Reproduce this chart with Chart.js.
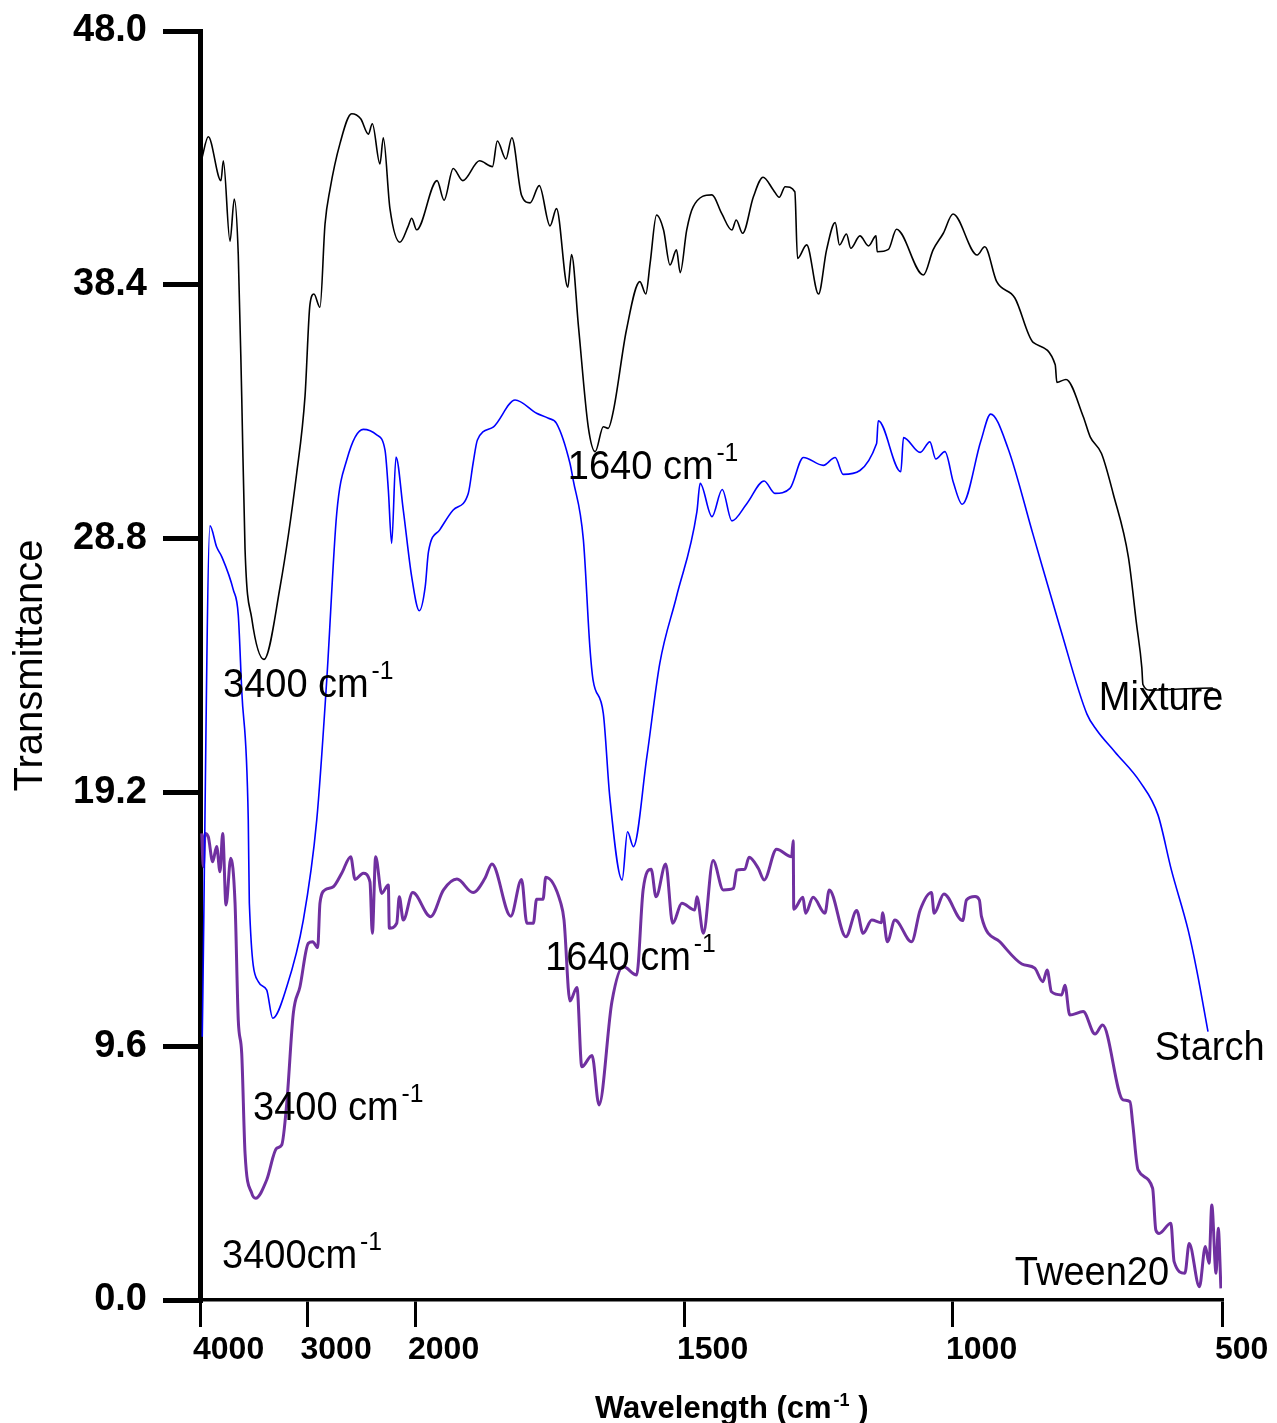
<!DOCTYPE html>
<html>
<head>
<meta charset="utf-8">
<script src="https://cdn.jsdelivr.net/npm/chart.js@4.4.1/dist/chart.umd.min.js"></script>
<style>
  html, body { margin: 0; padding: 0; background: #fff; }
  #chart { display: block; }
</style>
</head>
<body>
<canvas id="chart" width="1277" height="1423"></canvas>
<script>
// --- Data (wavenumber in cm-1, transmittance) ---
const xTicks = [4000, 3000, 2000, 1500, 1000, 500];
const yTicks = [0, 9.6, 19.2, 28.8, 38.4, 48.0];

const mixtureWave = [
  3984, 3923, 3805, 3783, 3721, 3681, 3644, 3612, 3581, 3519,
  3405, 3256, 3100, 3023, 2977, 2940, 2884, 2837, 2791, 2698,
  2589, 2505, 2434, 2397, 2326, 2295, 2233, 2140, 2062, 2031,
  1997, 1959, 1946, 1929, 1911, 1880, 1856, 1847, 1831, 1820,
  1802, 1786, 1769, 1749, 1737, 1716, 1709, 1696, 1678, 1665,
  1650, 1641, 1631, 1607, 1582, 1571, 1563, 1551, 1538, 1526,
  1514, 1507, 1495, 1483, 1448, 1430, 1411, 1403, 1391, 1371,
  1353, 1334, 1323, 1312, 1294, 1289, 1272, 1250, 1235, 1219,
  1211, 1198, 1190, 1173, 1157, 1143, 1141, 1120, 1105, 1055,
  1037, 1018, 1000, 955, 941, 919, 885, 851, 810, 807,
  790, 758, 745, 724, 702, 674, 659, 649, 647, 634,
  578, 517
];
const mixtureT = [
  43.16, 44.00, 42.34, 43.09, 40.05, 41.64, 39.54, 34.19, 28.40, 25.79,
  24.23, 26.95, 31.29, 34.19, 37.66, 38.05, 37.55, 40.70, 42.00, 43.74,
  44.87, 44.68, 44.10, 44.49, 42.97, 43.96, 41.28, 40.01, 40.63, 40.92,
  40.48, 42.34, 41.60, 42.80, 42.34, 43.09, 42.87, 43.84, 43.16, 43.96,
  41.79, 41.50, 42.15, 40.63, 41.28, 38.31, 39.54, 36.79, 33.03, 32.09,
  33.03, 32.97, 33.66, 36.69, 38.52, 38.05, 39.21, 41.04, 40.47, 39.15,
  39.72, 38.86, 40.47, 41.35, 41.80, 41.10, 40.47, 40.85, 40.35, 41.73,
  42.47, 41.99, 41.71, 42.11, 41.92, 39.40, 39.91, 38.05, 39.72, 40.75,
  39.91, 40.32, 39.78, 40.25, 39.87, 40.25, 39.65, 39.74, 40.50, 38.77,
  39.72, 40.35, 41.08, 39.53, 39.84, 38.53, 37.90, 36.22, 35.38, 34.71,
  34.82, 33.42, 32.65, 32.02, 30.48, 28.10, 25.59, 23.91, 23.28, 23.07,
  23.11, 23.15
];

const starchWave = [
  3979, 3907, 3845, 3798, 3690, 3644, 3612, 3551, 3541, 3458,
  3380, 3324, 3193, 3039, 2914, 2821, 2728, 2635, 2481, 2356,
  2279, 2248, 2217, 2177, 2109, 2031, 1992, 1981, 1975, 1954,
  1929, 1901, 1892, 1884, 1854, 1814, 1774, 1752, 1737, 1712,
  1706, 1687, 1675, 1669, 1650, 1638, 1615, 1605, 1594, 1569,
  1545, 1514, 1476, 1470, 1448, 1429, 1411, 1383, 1351, 1331,
  1303, 1278, 1241, 1219, 1204, 1142, 1139, 1097, 1092, 1061,
  1043, 1032, 1015, 999, 983, 948, 930, 898, 851, 801,
  751, 733, 699, 652, 619, 594, 563, 547, 526
];
const starchT = [
  9.96, 29.28, 28.48, 28.12, 26.86, 25.91, 23.07, 18.16, 15.01, 12.04,
  11.73, 10.66, 11.85, 14.37, 18.16, 23.45, 29.76, 31.77, 32.93, 32.72,
  32.15, 30.64, 28.62, 31.88, 29.88, 27.36, 26.07, 26.98, 28.30, 29.13,
  29.88, 30.51, 31.65, 32.53, 33.03, 34.04, 33.54, 33.35, 33.16, 31.65,
  31.02, 28.75, 24.71, 23.45, 22.19, 19.04, 15.89, 17.71, 17.15, 20.55,
  24.08, 26.60, 29.82, 30.89, 29.63, 30.66, 29.47, 30.13, 30.98, 30.51,
  30.70, 31.87, 31.57, 31.87, 31.23, 32.40, 33.26, 31.33, 32.62, 32.06,
  32.46, 31.81, 32.09, 30.90, 30.10, 32.51, 33.51, 32.23, 28.94, 25.44,
  22.16, 21.56, 20.73, 19.59, 18.35, 16.26, 14.00, 12.48, 10.15
];

const tweenWave = [
  3984, 3969, 3953, 3923, 3882, 3845, 3814, 3789, 3758, 3714,
  3674, 3644, 3612, 3581, 3519, 3482, 3380, 3287, 3240, 3193,
  3132, 3070, 2993, 2952, 2905, 2884, 2837, 2760, 2682, 2598,
  2558, 2481, 2419, 2397, 2366, 2310, 2248, 2239, 2170, 2146,
  2109, 2021, 1971, 1947, 1922, 1892, 1870, 1857, 1822, 1802,
  1792, 1780, 1774, 1762, 1757, 1729, 1723, 1712, 1699, 1690,
  1671, 1658, 1634, 1613, 1588, 1576, 1561, 1552, 1534, 1521,
  1504, 1480, 1476, 1464, 1446, 1427, 1408, 1402, 1387, 1379,
  1362, 1351, 1328, 1300, 1297, 1296, 1279, 1274, 1260, 1238,
  1230, 1199, 1179, 1167, 1151, 1133, 1131, 1122, 1108, 1077,
  1061, 1040, 1035, 1017, 982, 975, 959, 951, 947, 913,
  872, 848, 833, 825, 817, 798, 792, 783, 758, 736,
  722, 684, 671, 666, 656, 629, 623, 617, 595, 589,
  569, 561, 542, 531, 524, 519, 511, 507, 502
];
const tweenT = [
  17.65, 16.39, 17.65, 17.52, 16.58, 17.15, 16.20, 17.65, 14.94, 16.71,
  15.01, 10.59, 9.33, 5.55, 4.04, 3.85, 4.54, 5.74, 5.86, 7.44,
  10.84, 11.85, 13.49, 13.55, 13.33, 15.01, 15.51, 15.63, 16.14, 16.77,
  15.91, 16.14, 15.82, 13.87, 16.77, 15.38, 15.70, 14.06, 14.25, 15.25,
  14.37, 15.41, 14.50, 15.51, 15.92, 15.41, 15.95, 16.49, 14.52, 15.91,
  14.25, 14.25, 15.16, 15.16, 15.99, 15.01, 14.37, 11.31, 11.82, 8.82,
  9.25, 7.38, 11.28, 12.61, 12.29, 15.51, 16.29, 15.25, 16.49, 14.25,
  15.01, 14.75, 15.25, 13.87, 16.62, 15.51, 15.57, 16.26, 16.29, 16.75,
  16.33, 15.89, 17.05, 16.77, 17.37, 14.78, 15.23, 14.63, 15.23, 14.63,
  15.51, 13.74, 14.73, 13.87, 14.37, 14.27, 14.65, 13.55, 14.37, 13.55,
  14.75, 15.41, 14.63, 15.36, 14.35, 15.13, 15.26, 15.13, 14.50, 13.55,
  12.71, 12.55, 12.04, 12.48, 11.66, 11.54, 11.91, 10.78, 10.91, 10.06,
  10.40, 7.57, 7.50, 6.68, 4.92, 4.23, 2.65, 2.52, 2.90, 1.45,
  1.01, 2.14, 0.50, 2.02, 1.39, 3.59, 1.01, 2.71, 0.44
];

// peak / series labels, anchored in data space (left edge, baseline)
const labelText = ['1640 cm', '3400 cm', 'Mixture', '1640 cm', 'Starch', '3400 cm', '3400cm', 'Tween20'];
const labelSup  = ['-1', '-1', '', '-1', '', '-1', '-1', ''];
const labelWave = [1716, 3786, 729, 1758, 625, 3507, 3795, 885];
const labelT    = [31.05, 22.81, 22.32, 12.48, 9.08, 6.81, 1.21, 0.57];

// --- Broken wavenumber axis: 4000-2000 squeezed, 2000-500 stretched ---
const BREAK = 215 / 1022;

function waveToDecimal(w) {
  if (w >= 2000) return (4000 - w) / 2000 * BREAK;
  return BREAK + (2000 - w) / 1500 * (1 - BREAK);
}
function decimalToWave(d) {
  if (d <= BREAK) return 4000 - d / BREAK * 2000;
  return 2000 - (d - BREAK) / (1 - BREAK) * 1500;
}

class WaveScale extends Chart.LinearScale {
  getPixelForValue(value) {
    return this.getPixelForDecimal(waveToDecimal(value));
  }
  getValueForPixel(pixel) {
    return decimalToWave(this.getDecimalForPixel(pixel));
  }
}
WaveScale.id = 'wave';
WaveScale.defaults = {};
Chart.register(WaveScale);

const toPoints = (xs, ys) => xs.map((x, i) => ({ x: x, y: ys[i] }));

// Text with a small raised part, squeezed a bit horizontally
function drawSupText(ctx, main, sup, x, y, opts) {
  ctx.save();
  ctx.translate(x, y);
  ctx.scale(opts.squeeze, 1);
  ctx.font = opts.font;
  ctx.fillText(main, 0, 0);
  let w = ctx.measureText(main).width;
  if (sup) {
    ctx.font = opts.supFont;
    ctx.fillText(sup, w + opts.gap, -opts.rise);
    w += opts.gap + ctx.measureText(sup).width;
  }
  if (opts.tail) {
    ctx.font = opts.font;
    ctx.fillText(opts.tail, w, 0);
  }
  ctx.restore();
}

const labelsPlugin = {
  id: 'peakLabels',
  afterDraw(chart) {
    const { ctx, scales } = chart;
    ctx.save();
    ctx.fillStyle = '#000';
    ctx.textAlign = 'left';
    ctx.textBaseline = 'alphabetic';
    labelText.forEach((txt, i) => {
      const px = scales.x.getPixelForValue(labelWave[i]);
      const py = scales.y.getPixelForValue(labelT[i]);
      drawSupText(ctx, txt, labelSup[i], px, py, {
        font: '40px "Liberation Sans", Arial, sans-serif',
        supFont: '26px "Liberation Sans", Arial, sans-serif',
        squeeze: 0.95, gap: 3, rise: 18
      });
    });

    // x axis title
    drawSupText(ctx, 'Wavelength (cm', '-1', 595, 1418, {
      font: 'bold 31px "Liberation Sans", Arial, sans-serif',
      supFont: 'bold 18px "Liberation Sans", Arial, sans-serif',
      squeeze: 1, gap: 2, rise: 12, tail: ' )'
    });
    ctx.restore();
  }
};

const ctx = document.getElementById('chart').getContext('2d');

new Chart(ctx, {
  type: 'line',
  data: {
    datasets: [
      {
        label: 'Mixture',
        data: toPoints(mixtureWave, mixtureT),
        borderColor: '#000000',
        borderWidth: 1.6
      },
      {
        label: 'Starch',
        data: toPoints(starchWave, starchT),
        borderColor: '#0000ff',
        borderWidth: 1.6
      },
      {
        label: 'Tween20',
        data: toPoints(tweenWave, tweenT),
        borderColor: '#7030a0',
        borderWidth: 3
      }
    ]
  },
  options: {
    responsive: false,
    animation: false,
    devicePixelRatio: 1,
    layout: { padding: { left: 0, top: 31, right: 55, bottom: 0 } },
    elements: {
      point: { radius: 0 },
      line: { cubicInterpolationMode: 'monotone', fill: false }
    },
    plugins: {
      legend: { display: false },
      tooltip: { enabled: false }
    },
    scales: {
      x: {
        type: 'wave',
        min: 500,
        max: 4000,
        afterBuildTicks: (scale) => { scale.ticks = xTicks.map(v => ({ value: v })); },
        afterFit: (scale) => {
          scale.height = 123;
          scale.paddingLeft = 0;
          scale.paddingRight = 0;
        },
        border: { display: true, color: '#000', width: 3.5 },
        grid: {
          drawOnChartArea: false,
          drawTicks: true,
          tickLength: 27,
          lineWidth: 3,
          color: '#000'
        },
        ticks: {
          autoSkip: false,
          maxRotation: 0,
          align: 'start',
          labelOffset: -7,
          padding: 4,
          color: '#000',
          font: { family: '"Liberation Sans", Arial, sans-serif', size: 32, weight: 'bold' },
          callback: (v) => String(v)
        }
      },
      y: {
        type: 'linear',
        min: 0,
        max: 48,
        afterBuildTicks: (scale) => { scale.ticks = yTicks.map(v => ({ value: v })); },
        afterFit: (scale) => {
          scale.width = 200;
          scale.paddingTop = 0;
          scale.paddingBottom = 0;
        },
        border: { display: true, color: '#000', width: 5 },
        grid: {
          drawOnChartArea: false,
          drawTicks: true,
          tickLength: 37,
          lineWidth: 5,
          color: '#000'
        },
        ticks: {
          padding: 16,
          color: '#000',
          font: { family: '"Liberation Sans", Arial, sans-serif', size: 38, weight: 'bold' },
          callback: (v) => Number(v).toFixed(1)
        },
        title: {
          display: true,
          text: 'Transmittance',
          color: '#000',
          padding: { top: 7, bottom: 0 },
          font: { family: '"Liberation Sans", Arial, sans-serif', size: 40, weight: 'normal' }
        }
      }
    }
  },
  plugins: [labelsPlugin]
});
</script>
</body>
</html>
